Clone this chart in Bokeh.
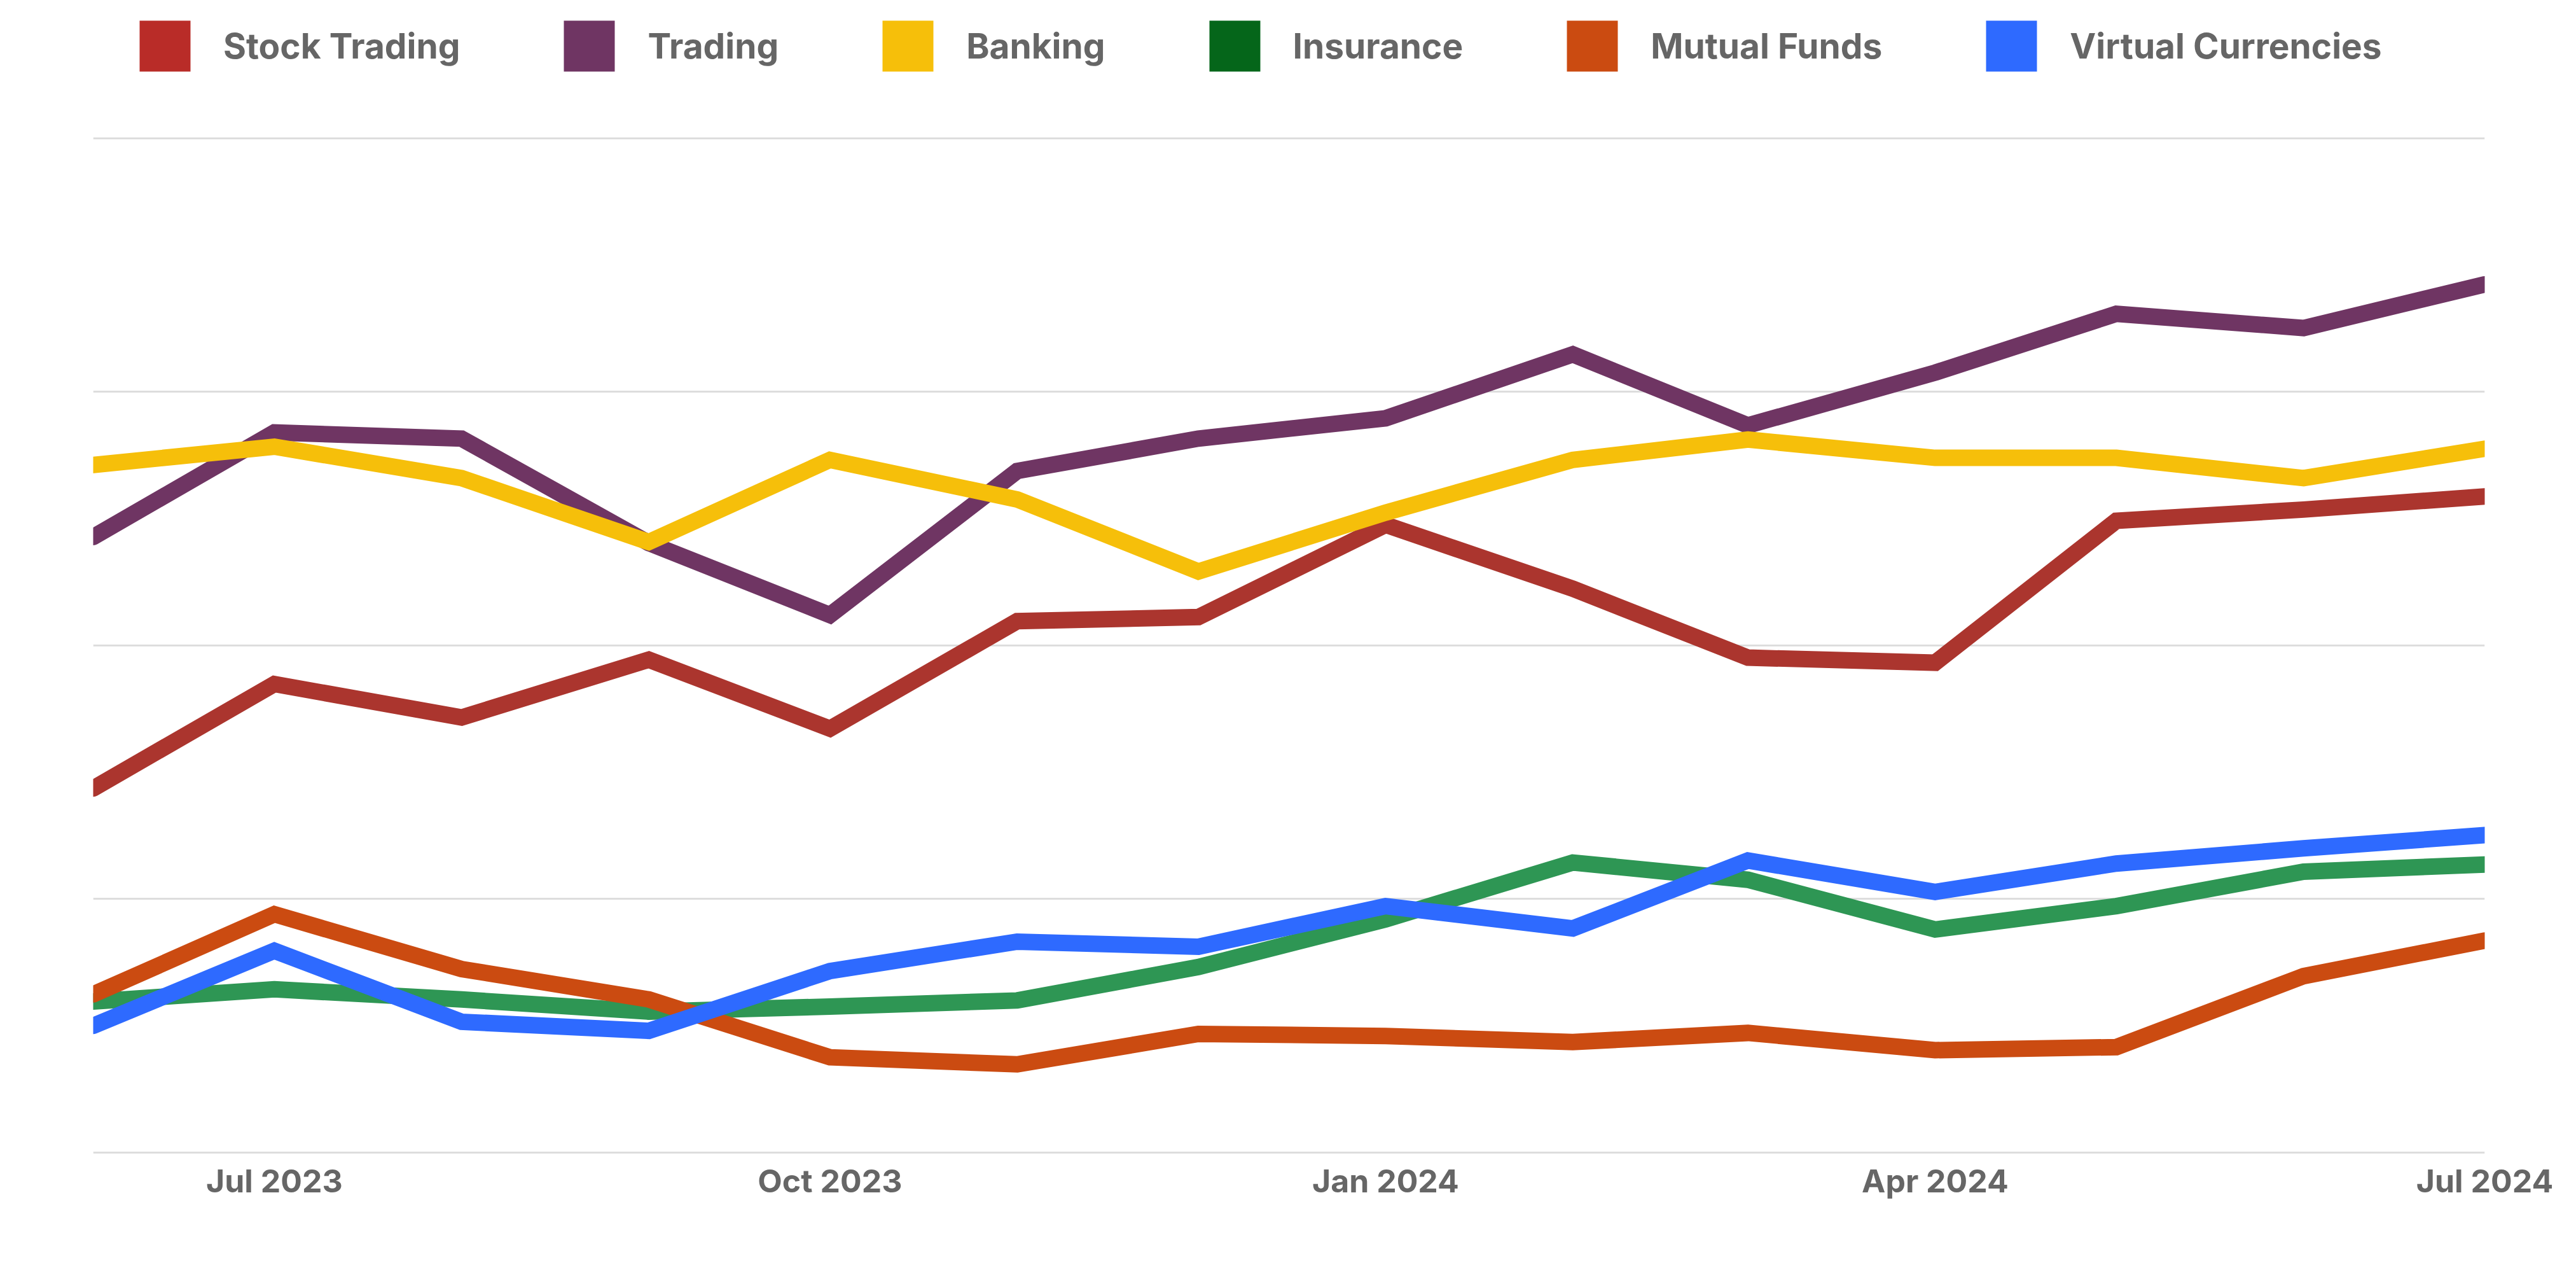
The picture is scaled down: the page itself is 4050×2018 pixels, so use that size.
import pandas as pd
from bokeh.plotting import figure
from bokeh.models import (Range1d, FixedTicker, DatetimeTickFormatter, Legend,
                          LegendItem)
from bokeh.embed import file_html
from bokeh.resources import INLINE

# ---- data -------------------------------------------------------------
months = ["2023-06-01", "2023-07-01", "2023-08-01", "2023-09-01", "2023-10-01",
          "2023-11-01", "2023-12-01", "2024-01-01", "2024-02-01", "2024-03-01",
          "2024-04-01", "2024-05-01", "2024-06-01", "2024-07-01"]

series_names = ["Stock Trading", "Trading", "Banking", "Insurance",
                "Mutual Funds", "Virtual Currencies"]

stock_trading = [35.9, 46.2, 42.9, 48.6, 41.8, 52.4, 52.8, 61.9, 55.6, 48.8,
                 48.3, 62.3, 63.4, 64.7]
trading = [60.7, 71.0, 70.4, 60.1, 53.0, 67.2, 70.4, 72.4, 78.7, 71.7, 76.9,
           82.7, 81.3, 85.6]
banking = [67.8, 69.6, 66.5, 60.2, 68.3, 64.4, 57.3, 63.1, 68.3, 70.3, 68.5,
           68.5, 66.5, 69.4]
insurance = [14.9, 16.1, 15.1, 13.9, 14.4, 15.0, 18.3, 23.0, 28.6, 26.9, 22.0,
             24.3, 27.7, 28.4]
mutual_funds = [15.6, 23.5, 18.1, 15.1, 9.4, 8.7, 11.7, 11.5, 10.9, 11.8, 10.1,
                10.4, 17.4, 20.9]
virtual_currencies = [12.5, 19.9, 12.9, 12.0, 17.9, 20.8, 20.3, 24.3, 22.1,
                      28.8, 25.7, 28.5, 30.0, 31.3]

tick_dates = ["2023-07-01", "2023-10-01", "2024-01-01", "2024-04-01", "2024-07-01"]
tick_labels = ["Jul 2023", "Oct 2023", "Jan 2024", "Apr 2024", "Jul 2024"]
grid_values = [0, 25, 50, 75, 100]

# ---- styles ----------------------------------------------------------
line_colors = ["#AB352E", "#6F3563", "#F6BF0A", "#2E9654", "#CB4B11", "#2E6AFF"]
legend_colors = ["#B92C28", "#6F3563", "#F6BF0A", "#05661A", "#CB4B11", "#2E6AFF"]
FONT = "Inter"
TXT = "#666666"

x = pd.to_datetime(months)
values = [stock_trading, trading, banking, insurance, mutual_funds,
          virtual_currencies]

p = figure(width=4050, height=2018, x_axis_type="datetime",
           output_backend="svg", toolbar_location=None,
           x_range=Range1d(x[0], x[-1]), y_range=Range1d(-0.565, 113.61),
           min_border_left=146, min_border_right=144,
           min_border_top=0, min_border_bottom=198)
p.outline_line_color = None
p.background_fill_color = "white"
p.border_fill_color = "white"

p.xgrid.visible = False
p.ygrid.grid_line_color = "#dddddd"
p.ygrid.grid_line_width = 3
p.yaxis.visible = False
p.yaxis.ticker = FixedTicker(ticks=grid_values)

ticks_ms = [pd.Timestamp(t).value / 1e6 for t in tick_dates]
p.xaxis.ticker = FixedTicker(ticks=ticks_ms)
fmt = "%b %Y"
p.xaxis.formatter = DatetimeTickFormatter(
    microseconds=fmt, milliseconds=fmt, seconds=fmt, minsec=fmt, minutes=fmt,
    hourmin=fmt, hours=fmt, days=fmt, months=fmt, years=fmt)
p.xaxis.axis_line_color = None
p.xaxis.major_tick_line_color = None
p.xaxis.minor_tick_line_color = None
p.xaxis.major_tick_out = 0
p.xaxis.major_tick_in = 0
p.xaxis.minor_tick_out = 0
p.xaxis.major_label_text_font = FONT
p.xaxis.major_label_text_font_style = "bold"
p.xaxis.major_label_text_font_size = "50px"
p.xaxis.major_label_text_color = TXT
p.xaxis.major_label_standoff = 5

for vals, c in zip(values, line_colors):
    p.line(x, vals, line_color=c, line_width=26, line_cap="round",
           line_join="miter")

# legend swatches (drawn off-range, only used by the legend)
items = []
for name, c in zip(series_names, legend_colors):
    r = p.quad(left=[x[0]], right=[x[1]], bottom=[-60], top=[-50],
               fill_color=c, line_color=None)
    items.append(LegendItem(label=name, renderers=[r]))

legend = Legend(items=items, orientation="horizontal", location=(63, 1698),
                glyph_width=100, glyph_height=100, label_standoff=42,
                spacing=153, padding=0, margin=0,
                border_line_color=None, background_fill_alpha=0,
                label_text_font=FONT, label_text_font_style="bold",
                label_text_font_size="55px", label_text_color=TXT)
p.add_layout(legend, "center")

open("out.html", "w").write(file_html(p, INLINE))
